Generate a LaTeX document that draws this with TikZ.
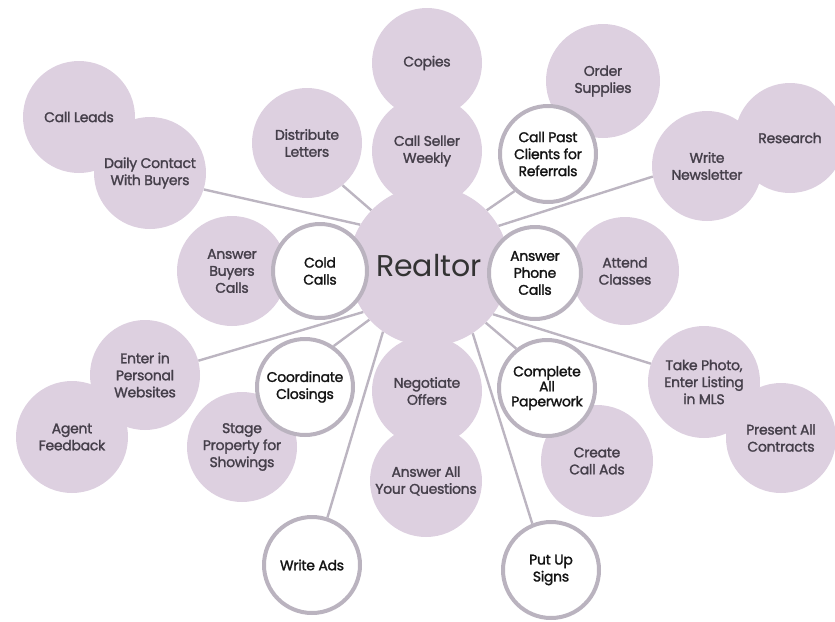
\documentclass[tikz,border=0pt]{standalone}
\usepackage{fontspec}
\setmainfont{Poppins}
\newfontfamily\medfont{Poppins}[FakeBold=1.6,LetterSpace=-2]
\usetikzlibrary{backgrounds}
\definecolor{bubfill}{HTML}{DDD0E0}
\definecolor{bubtext}{HTML}{453F4A}
\definecolor{ringgray}{HTML}{BAB3BF}
\definecolor{linkgray}{HTML}{BCB5C1}
\tikzset{
  bub/.style={circle, fill=bubfill, draw=none, inner sep=0pt, minimum size=#1,
    text=bubtext, align=center, font=\medfont\fontsize{14}{17}\selectfont},
  keybub/.style={circle, fill=white, draw=ringgray, line width=4pt, inner sep=0pt,
    minimum size=#1, text=black!92, align=center, font=\medfont\fontsize{14}{17}\selectfont},
  hub/.style={circle, fill=bubfill, draw=none, inner sep=0pt, minimum size=160pt,
    text=black!80, font=\fontsize{30}{34}\selectfont},
  link/.style={draw=linkgray, line width=2.4pt}
}
\begin{document}
\begin{tikzpicture}[x=1pt,y=-1pt]
\useasboundingbox (0,0) rectangle (835,621);
% lilac bubbles
\node[bub=110pt] (copies) at (427,63) {Copies};
\node[bub=110pt] (seller) at (427,151) {Call Seller\\Weekly};
\node[bub=114pt] (order) at (603,81) {Order\\Supplies};
\node[bub=110pt] (research) at (790,138) {Research};
\node[bub=110pt] (news) at (707,166) {Write\\Newsletter};
\node[bub=108pt] (attend) at (625,271) {Attend\\Classes};
\node[bub=110pt] (distr) at (307,143) {Distribute\\Letters};
\node[bub=112pt] (leads) at (79,117) {Call Leads};
\node[bub=112pt] (daily) at (150,173) {Daily Contact\\With Buyers};
\node[bub=110pt] (buyers) at (232,271) {Answer\\Buyers\\Calls};
\node[bub=110pt] (web) at (145,375) {Enter in\\Personal\\Websites};
\node[bub=112pt] (agent) at (72,437) {Agent\\Feedback};
\node[bub=110pt] (stage) at (242,447) {Stage\\Property for\\Showings};
\node[bub=110pt] (nego) at (427,391) {Negotiate\\Offers};
\node[bub=112pt] (ansall) at (426,481) {Answer All\\Your Questions};
\node[bub=112pt] (create) at (597,461) {Create\\Call Ads};
\node[bub=112pt] (photo) at (704,382) {Take Photo,\\Enter Listing\\in MLS};
\node[bub=110pt] (present) at (781,438) {Present All\\Contracts};
% hub
\node[hub] (realtor) at (429,266) {Realtor};
% white key bubbles
\node[keybub=94pt] (cold) at (320,271) {Cold\\Calls};
\node[keybub=92pt] (phone) at (535,273) {Answer\\Phone\\Calls};
\node[keybub=96pt] (past) at (548,154) {Call Past\\Clients for\\Referrals};
\node[keybub=96pt] (coord) at (305,387) {Coordinate\\Closings};
\node[keybub=96pt] (wads) at (312,565) {Write Ads};
\node[keybub=96pt, font=\medfont\fontsize{14}{15}\selectfont] (paper) at (547,388) {Complete\\All\\Paperwork};
\node[keybub=96pt] (signs) at (551,570) {Put Up\\Signs};
% connectors
\begin{scope}[on background layer]
\draw[link] (daily.-17) -- (realtor.149);
\draw[link] (distr.-50) -- (realtor.136);
\draw[link] (past.228) -- (realtor.44);
\draw[link] (news.191) -- (realtor.30);
\draw[link] (web.15) -- (realtor.215);
\draw[link] (coord.55) -- (realtor.222);
\draw[link] (wads.72) -- (realtor.235);
\draw[link] (paper.128) -- (realtor.-45);
\draw[link] (photo.161) -- (realtor.-37);
\draw[link] (signs.112) -- (realtor.-57);
\end{scope}
\end{tikzpicture}
\end{document}
